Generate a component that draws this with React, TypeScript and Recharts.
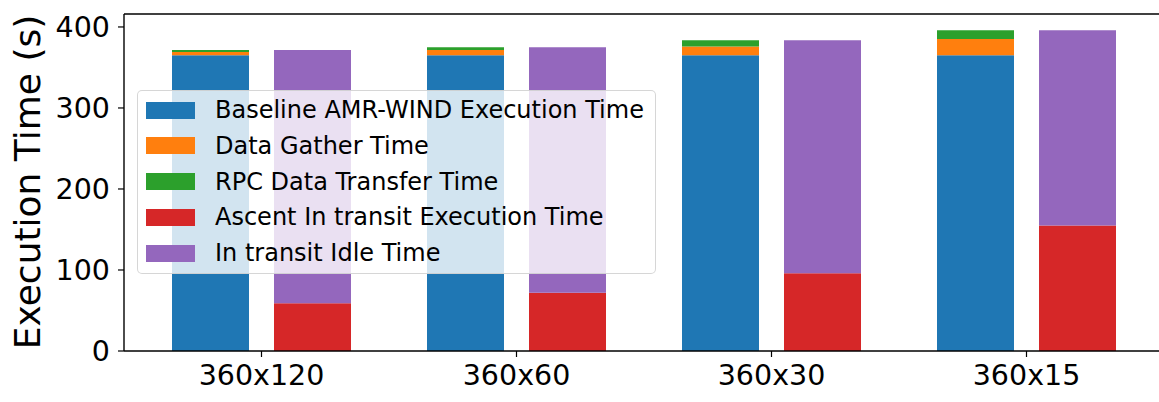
import React from 'react';
import { BarChart, Bar, XAxis, YAxis, Legend, ReferenceLine } from 'recharts';

const categories = ['360x120', '360x60', '360x30', '360x15'];
const baselineTime = [365, 365, 365, 365];
const gatherTime = [4, 6.5, 11, 20];
const rpcTime = [2.5, 3.5, 7.5, 11];
const ascentTime = [59, 72, 96, 155];
const idleTime = [312.5, 303, 287.5, 241];
const yTicks = [0, 100, 200, 300, 400];

const seriesNames = [
  'Baseline AMR-WIND Execution Time',
  'Data Gather Time',
  'RPC Data Transfer Time',
  'Ascent In transit Execution Time',
  'In transit Idle Time',
];
const seriesColors = ['#1f77b4', '#ff7f0e', '#2ca02c', '#d62728', '#9467bd'];

const data = categories.map((c, i) => ({
  name: c,
  baseline: baselineTime[i],
  gather: gatherTime[i],
  rpc: rpcTime[i],
  ascent: ascentTime[i],
  idle: idleTime[i],
}));

const FONT = '"DejaVu Sans", sans-serif';

const LegendBox = () => (
  <div
    style={{
      position: 'relative',
      width: 519,
      height: 184,
      boxSizing: 'border-box',
      background: 'rgba(255,255,255,0.8)',
      border: '1.3px solid rgba(204,204,204,0.8)',
      borderRadius: 5,
      fontFamily: FONT,
      fontSize: 24,
      color: '#000',
    }}
  >
    {seriesNames.map((n, i) => (
      <div key={n}>
        <div
          style={{
            position: 'absolute',
            left: 8,
            top: 10.5 + i * 35.75,
            width: 49,
            height: 17,
            background: seriesColors[i],
          }}
        />
        <div
          style={{
            position: 'absolute',
            left: 77,
            top: 19 + i * 35.75 - 14,
            lineHeight: '28px',
            whiteSpace: 'nowrap',
          }}
        >
          {n}
        </div>
      </div>
    ))}
  </div>
);

export default function App() {
  return (
    <div
      style={{
        position: 'absolute',
        left: 0,
        top: 0,
        width: 1159,
        height: 402,
        overflow: 'hidden',
        background: '#fff',
      }}
    >
      <BarChart
        width={1159}
        height={402}
        data={data}
        margin={{ top: 14, right: -5, bottom: 0, left: 0 }}
        barSize={77}
        barGap={25}
        barCategoryGap={0}
      >
        <XAxis
          dataKey="name"
          height={51}
          padding={{ left: 10, right: 10 }}
          axisLine={{ stroke: '#000', strokeWidth: 1.4 }}
          tickLine={{ stroke: '#000', strokeWidth: 1.2 }}
          tickSize={6}
          tickMargin={8}
          tick={{ fill: '#000', fontSize: 28.5, fontFamily: FONT }}
          interval={0}
        />
        <YAxis
          width={124}
          domain={[0, 416]}
          ticks={yTicks}
          allowDataOverflow
          axisLine={{ stroke: '#000', strokeWidth: 1.4 }}
          tickLine={{ stroke: '#000', strokeWidth: 1.2 }}
          tickSize={6}
          tickMargin={8}
          tick={{ fill: '#000', fontSize: 28.5, fontFamily: FONT }}
          label={() => (
            <text
              x={27}
              y={182}
              transform="rotate(-90 27 182)"
              textAnchor="middle"
              dominantBaseline="central"
              fontSize={36}
              fontFamily={FONT}
              fill="#000"
            >
              Execution Time (s)
            </text>
          )}
        />
        <ReferenceLine y={416} stroke="#000" strokeWidth={1.6} ifOverflow="visible" />
        <Bar dataKey="baseline" stackId="a" fill={seriesColors[0]} isAnimationActive={false} />
        <Bar dataKey="gather" stackId="a" fill={seriesColors[1]} isAnimationActive={false} />
        <Bar dataKey="rpc" stackId="a" fill={seriesColors[2]} isAnimationActive={false} />
        <Bar dataKey="ascent" stackId="b" fill={seriesColors[3]} isAnimationActive={false} />
        <Bar dataKey="idle" stackId="b" fill={seriesColors[4]} isAnimationActive={false} />
        <Legend
          layout="horizontal"
          verticalAlign="middle"
          align="center"
          content={() => <LegendBox />}
          wrapperStyle={{ position: 'absolute', left: 137, top: 90, width: 519, height: 184 }}
        />
      </BarChart>
    </div>
  );
}
